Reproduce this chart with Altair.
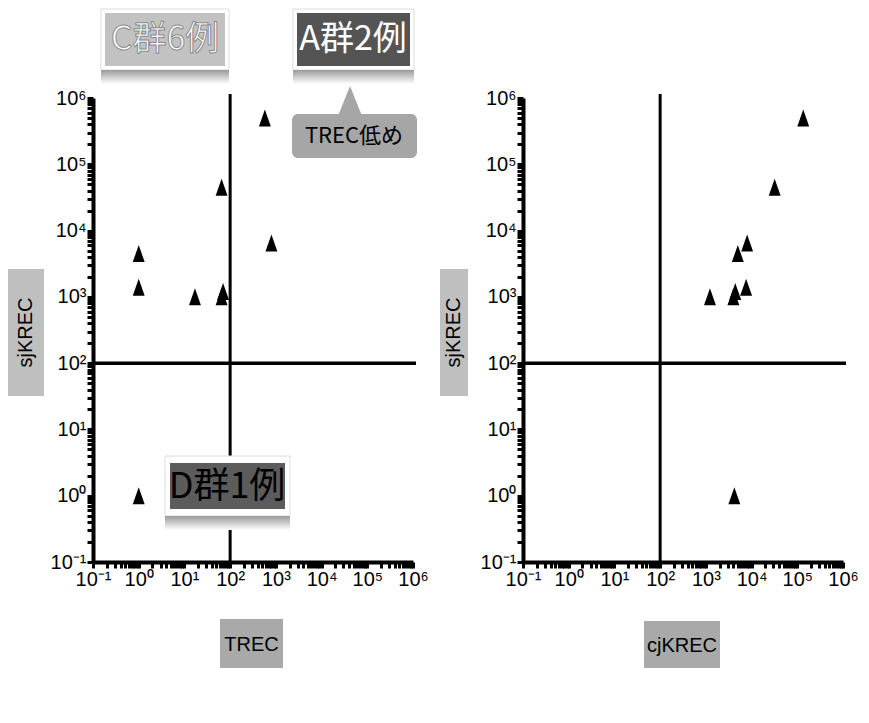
import json
import altair as alt
import pandas as pd

# ---- data ----
trec = [1, 1, 17, 65, 70, 65, 575, 800, 1]
cjkrec = [5000, 7600, 1230, 4000, 4400, 32000, 135000, 8000, 4200]
sjkrec = [4500, 1400, 1000, 1000, 1200, 45000, 500000, 6500, 1]
cutoff = [100]
tick_labels = ["10⁻¹", "10⁰", "10¹", "10²", "10³", "10⁴", "10⁵", "10⁶"]
group_labels = ["C群6例", "A群2例", "TREC低め", "D群1例"]
axis_titles = ["TREC", "cjKREC", "sjKREC"]

df = pd.DataFrame({"TREC": trec, "cjKREC": cjkrec, "sjKREC": sjkrec})
cut_df = pd.DataFrame({"cut": cutoff})
one = pd.DataFrame({"_": [0]})

W, H = 320, 464
ticks = []
for e in range(-1, 6):
    for k in range(1, 10):
        ticks.append(k * 10.0 ** e)
ticks.append(1e6)

lg = "(log(datum.value)/LN10)"
major = f"abs({lg} - round({lg})) < 0.001"
label_expr = f"{major} ? {json.dumps(tick_labels, ensure_ascii=False)}[round({lg})+1] : ''"

LABEL_FONT = "Liberation Sans Narrow, Liberation Sans, Arial"
CJK = "Noto Sans CJK JP"


def make_axis():
    return alt.Axis(
        values=ticks, labelExpr=label_expr, title=None, grid=False,
        tickSize=6, tickWidth=3, tickColor="black", tickCount=70,
        domainColor="black", domainWidth=4,
        labelFont=LABEL_FONT, labelFontSize=20, labelColor="black",
        labelOverlap=False, labelFlush=False, labelPadding=1,
    )


scale = alt.Scale(type="log", domain=[0.1, 1e6], nice=False)
TRI = "M0,-1L-0.7,1L0.7,1Z"


def box(x0, x1, y0, y1, fill, radius=0, stroke=None):
    kw = dict(color=fill, cornerRadius=radius)
    if stroke:
        kw.update(stroke=stroke, strokeWidth=1)
    return alt.Chart(one).mark_rect(**kw).encode(
        x=alt.value(x0), x2=alt.value(x1), y=alt.value(y0), y2=alt.value(y1))


def shadow(x0, x1, y0, y1):
    grad = alt.LinearGradient(gradient="linear", x1=0, x2=0, y1=0, y2=1,
                              stops=[alt.GradientStop(offset=0, color="#9a9a9a"),
                                     alt.GradientStop(offset=1, color="#ffffff")])
    return alt.Chart(one).mark_rect(color=grad).encode(
        x=alt.value(x0), x2=alt.value(x1), y=alt.value(y0), y2=alt.value(y1))


def label(txt, x, y, size, color="black", font=CJK, angle=0, stroke=None, weight="normal"):
    kw = dict(text=txt, font=font, fontSize=size, color=color, align="center",
              baseline="middle", angle=angle, fontWeight=weight)
    if stroke:
        kw.update(stroke=stroke, strokeWidth=1)
    return alt.Chart(one).mark_text(**kw).encode(x=alt.value(x), y=alt.value(y))


def panel(xfield, xtitle, ybox, xbox, extras):
    pts = alt.Chart(df).mark_point(shape=TRI, filled=True, color="black",
                                   size=289, opacity=1).encode(
        x=alt.X(f"{xfield}:Q", scale=scale, axis=make_axis()),
        y=alt.Y("sjKREC:Q", scale=scale, axis=make_axis()),
    )
    vr = alt.Chart(cut_df).mark_rule(color="black", strokeWidth=3).encode(
        x=alt.X("cut:Q", scale=scale), y=alt.value(-4), y2=alt.value(H))
    hr = alt.Chart(cut_df).mark_rule(color="black", strokeWidth=3.5).encode(
        y=alt.Y("cut:Q", scale=scale), x=alt.value(0), x2=alt.value(W + 3))
    layers = [vr, hr, pts]
    # axis title boxes
    layers += [box(*ybox, "#bfbfbf"),
               label(axis_titles[2], (ybox[0] + ybox[1]) / 2, (ybox[2] + ybox[3]) / 2,
                     20, font="Liberation Sans, Arial", angle=270),
               box(*xbox, "#a9a9a9"),
               label(xtitle, (xbox[0] + xbox[1]) / 2, (xbox[2] + xbox[3]) / 2 + 1,
                     20, font=LABEL_FONT)]
    layers += extras
    return alt.layer(*layers).properties(width=W, height=H)


left_extras = [
    # C group
    box(8, 136, -89, -28, "#ffffff", stroke="#dcdcdc"), shadow(8, 136, -28, -14),
    box(12, 132, -85, -32, "#c2c2c2"),
    label(group_labels[0], 72, -58, 34, color="#ffffff", stroke="#8a8a8a"),
    # A group
    box(200, 321, -89, -28, "#ffffff", stroke="#dcdcdc"), shadow(200, 321, -28, -14),
    box(204, 317, -85, -32, "#545454"),
    label(group_labels[1], 260, -58, 34, color="#ffffff"),
    # callout
    alt.Chart(one).mark_point(shape="M0,-1L-0.8,1L0.8,1Z", filled=True, color="#a6a6a6",
                              size=1024, opacity=1).encode(x=alt.value(257), y=alt.value(4)),
    box(199, 324, 16, 60, "#a6a6a6", radius=6),
    label(group_labels[2], 261, 38, 22),
    # D group
    box(72, 197, 358, 418, "#ffffff", stroke="#dcdcdc"), shadow(72, 197, 418, 432),
    box(77, 192, 365, 411, "#5c5c5c"),
    label(group_labels[3], 134, 389, 36),
]

left = panel("TREC", axis_titles[0], (-85, -49, 171, 298), (127, 190, 521, 570), left_extras)
right = panel("cjKREC", axis_titles[1], (-83, -55, 171, 298), (121, 197, 523, 570), [])

chart = alt.hconcat(left, right, spacing=11).resolve_scale(x="independent", y="independent").properties(
    padding={"left": 0, "top": 0, "right": 0, "bottom": 0},
    background="white",
).configure_view(stroke=None)

chart.save("out.html", embed_options={"renderer": "svg", "actions": False})
